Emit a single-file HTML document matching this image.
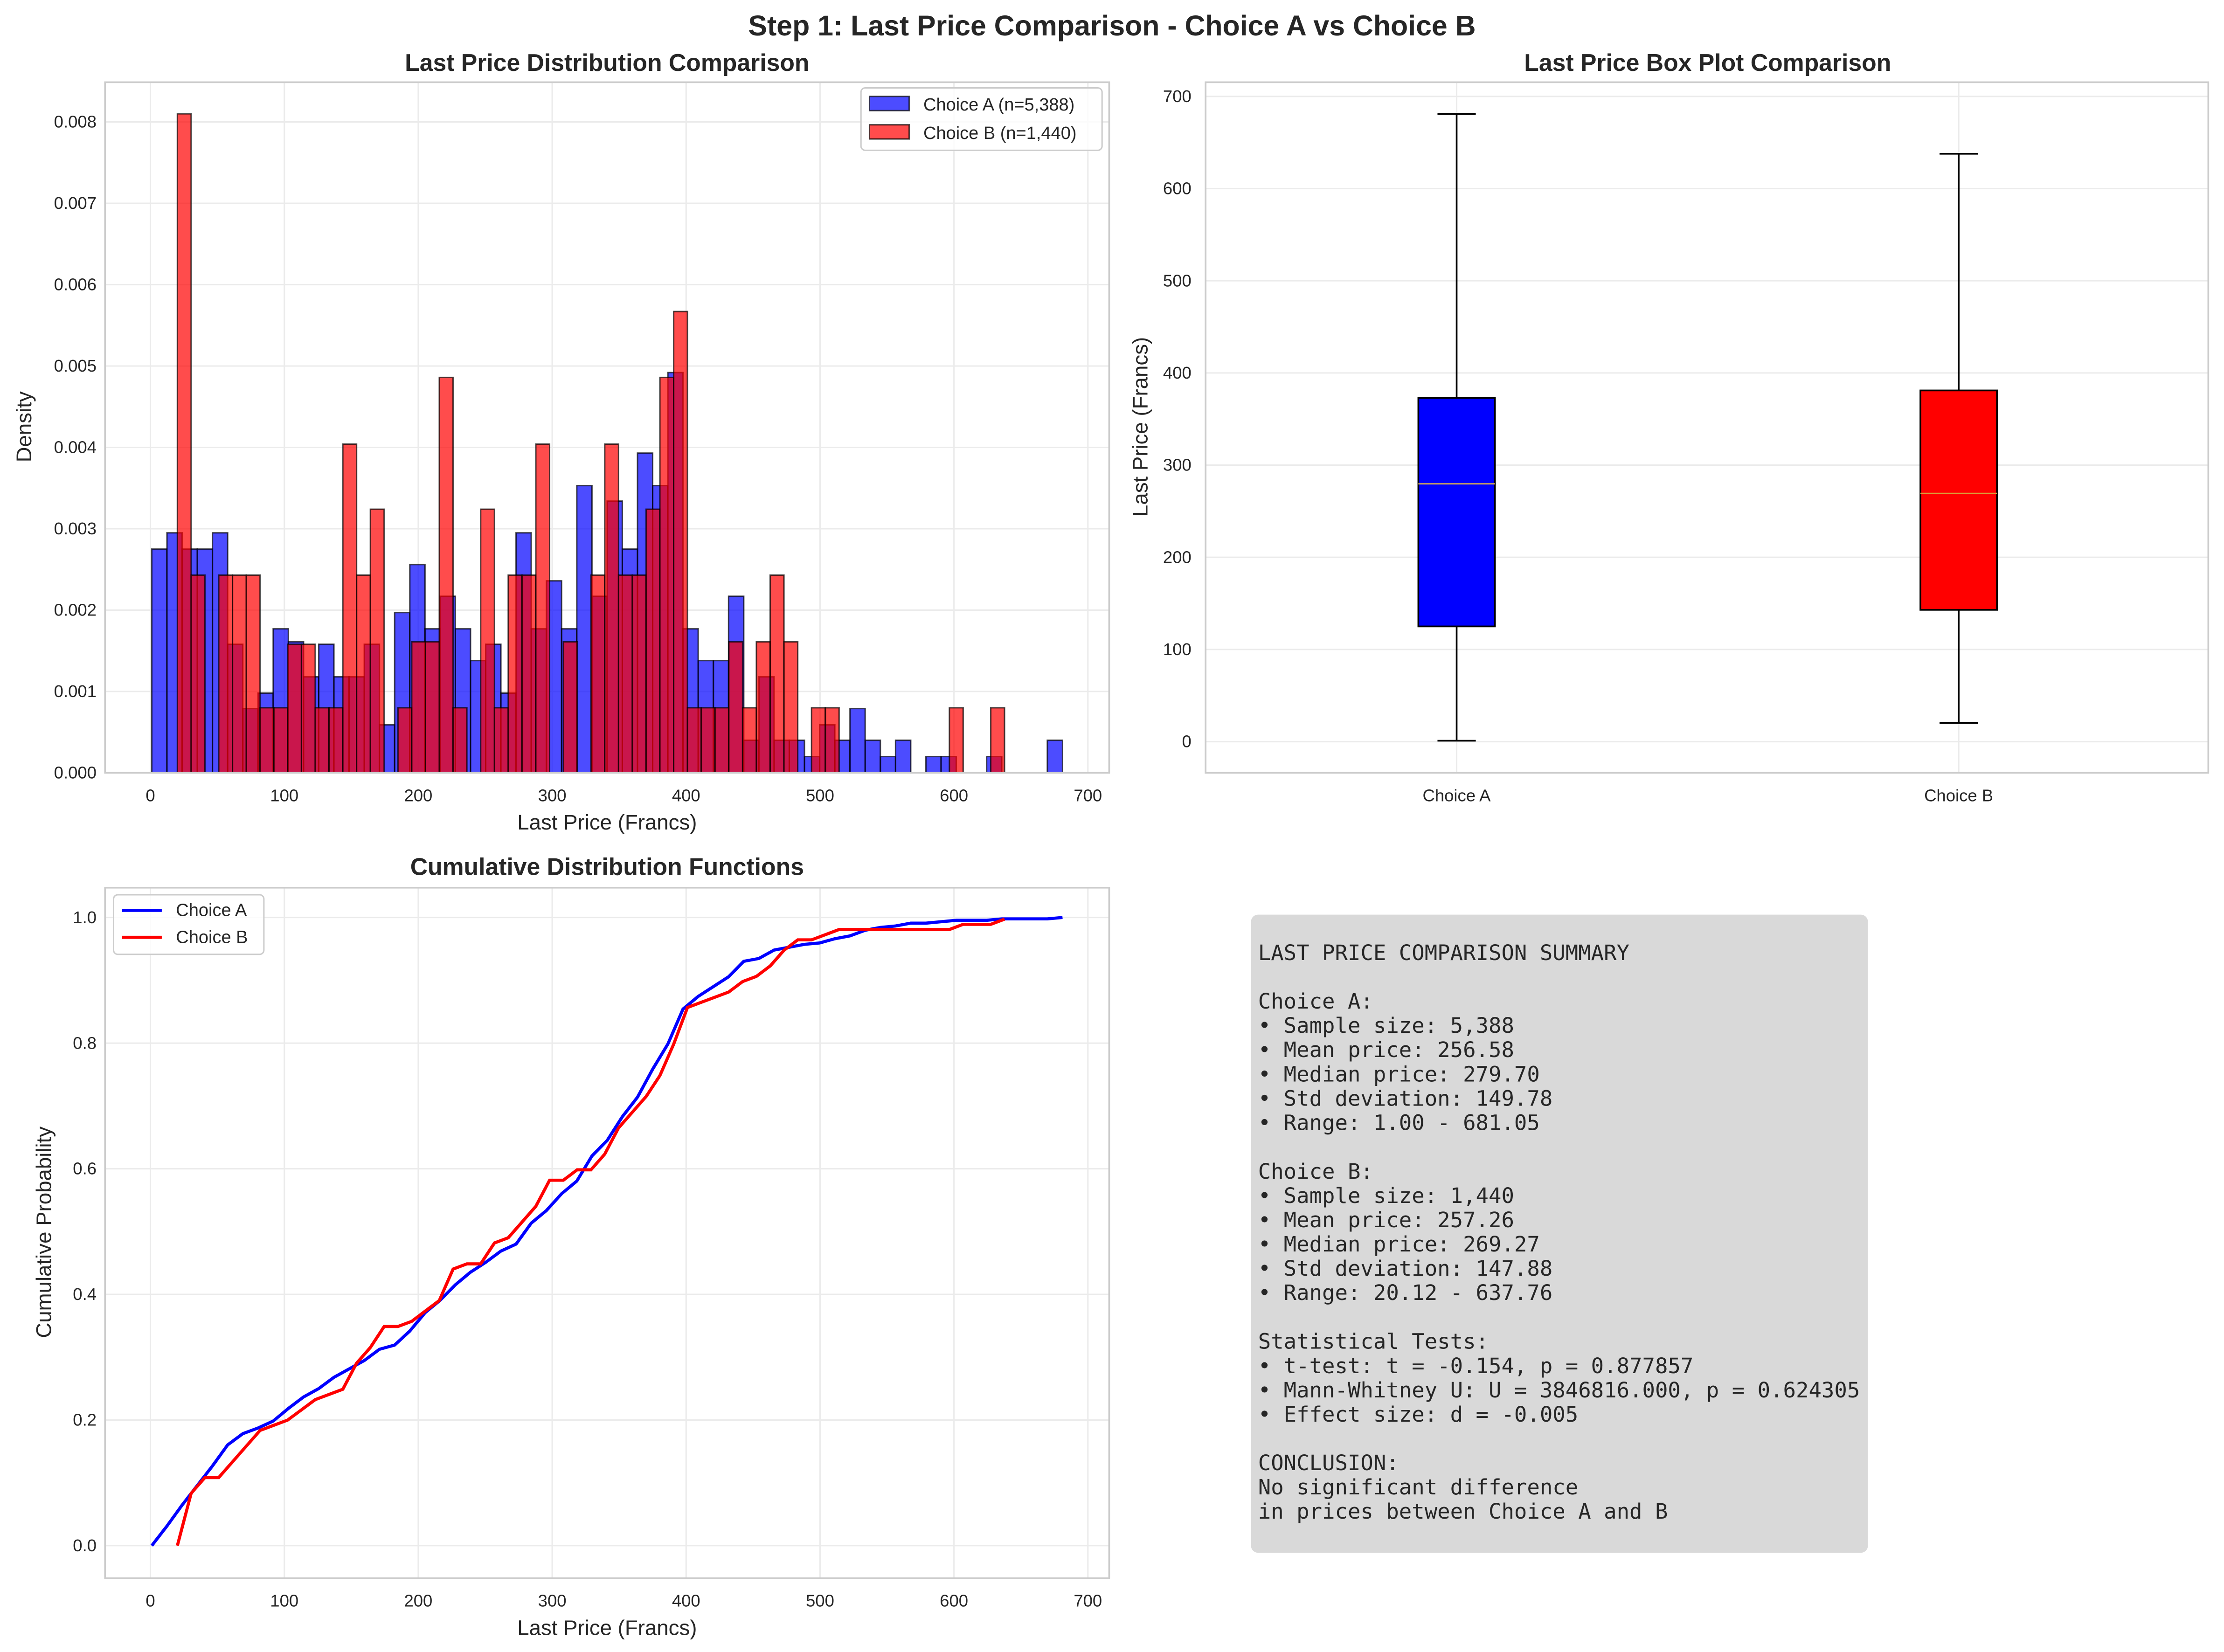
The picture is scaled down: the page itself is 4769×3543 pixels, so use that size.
<!DOCTYPE html>
<html><head><meta charset="utf-8"><style>
html,body{margin:0;padding:0;background:#fff;}
svg{display:block;}
text{font-family:"Liberation Sans",Arial,sans-serif;fill:#262626;}
.mono{font-family:"DejaVu Sans Mono","Liberation Mono",monospace;fill:#262626;}
</style></head><body>
<svg id="fig" width="4769" height="3543" viewBox="0 0 1568 1165" xmlns="http://www.w3.org/2000/svg">
<rect width="1568" height="1165" fill="#fff"/>
<text x="784" y="25" text-anchor="middle" font-size="20" font-weight="bold">Step 1: Last Price Comparison - Choice A vs Choice B</text>
<g id="p1"></g>
<g id="p2"></g>
<g id="p3"></g>
<g>
<rect x="882" y="645" width="435" height="450" rx="5" fill="#d9d9d9"/>
<text class="mono" font-size="15" xml:space="preserve">
<tspan x="887" y="677">LAST PRICE COMPARISON SUMMARY</tspan>
<tspan x="887" y="711.3">Choice A:</tspan>
<tspan x="887" y="728.4">• Sample size: 5,388</tspan>
<tspan x="887" y="745.5">• Mean price: 256.58</tspan>
<tspan x="887" y="762.7">• Median price: 279.70</tspan>
<tspan x="887" y="779.8">• Std deviation: 149.78</tspan>
<tspan x="887" y="796.9">• Range: 1.00 - 681.05</tspan>
<tspan x="887" y="831.2">Choice B:</tspan>
<tspan x="887" y="848.3">• Sample size: 1,440</tspan>
<tspan x="887" y="865.5">• Mean price: 257.26</tspan>
<tspan x="887" y="882.6">• Median price: 269.27</tspan>
<tspan x="887" y="899.7">• Std deviation: 147.88</tspan>
<tspan x="887" y="916.8">• Range: 20.12 - 637.76</tspan>
<tspan x="887" y="951.1">Statistical Tests:</tspan>
<tspan x="887" y="968.3">• t-test: t = -0.154, p = 0.877857</tspan>
<tspan x="887" y="985.4">• Mann-Whitney U: U = 3846816.000, p = 0.624305</tspan>
<tspan x="887" y="1002.5">• Effect size: d = -0.005</tspan>
<tspan x="887" y="1036.8">CONCLUSION:</tspan>
<tspan x="887" y="1053.9">No significant difference</tspan>
<tspan x="887" y="1071">in prices between Choice A and B</tspan>
</text>
</g>
</svg>
<script>
// ---- data ----
const binStartA = 1.0, binEndA = 681.05;
const binStartB = 20.12, binEndB = 637.76;
const densityA = [2.75,2.95,2.75,2.75,2.95,1.58,0.79,0.98,1.77,1.61,1.18,1.58,1.18,1.18,1.58,0.59,1.97,2.56,1.77,2.17,1.77,1.38,1.58,0.98,2.95,1.77,2.36,1.77,3.53,2.17,3.34,2.75,3.93,3.53,4.92,1.77,1.38,1.38,2.17,0.40,1.18,0.40,0.40,0.20,0.59,0.40,0.79,0.40,0.20,0.40,0,0.20,0.20,0,0,0.20,0,0,0,0.40];
const densityB = [8.10,2.43,0,2.43,2.43,2.43,0.80,0.80,1.58,1.58,0.80,0.80,4.04,2.43,3.24,0,0.80,1.61,1.61,4.86,0.80,0,3.24,0.80,2.43,2.43,4.04,0,1.61,0,2.43,4.04,2.43,2.43,3.24,4.86,5.67,0.80,0.80,0.80,1.61,0.80,1.61,2.43,1.61,0,0.80,0.80,0,0,0,0,0,0,0,0,0.80,0,0,0.80];
const histXTicks = [0,100,200,300,400,500,600,700];
const histYTicks = [0,0.001,0.002,0.003,0.004,0.005,0.006,0.007,0.008];
const boxCats = ["Choice A","Choice B"];
const boxMin = [1.00,20.12];
const boxQ1 = [125,143];
const boxMed = [279.70,269.27];
const boxQ3 = [373,381];
const boxMax = [681.05,637.76];
const boxYTicks = [0,100,200,300,400,500,600,700];
const cdfYTicks = [0,0.2,0.4,0.6,0.8,1.0];
const cdfYLabels = ["0.0","0.2","0.4","0.6","0.8","1.0"];

const NS="http://www.w3.org/2000/svg";
function mk(parent,tag,attrs,txt){const e=document.createElementNS(NS,tag);for(const k in attrs)e.setAttribute(k,attrs[k]);if(txt!==undefined)e.textContent=txt;parent.appendChild(e);return e;}

function frame(g,x0,y0,x1,y1){
  const r=mk(g,'rect',{x:x0,y:y0,width:x1-x0,height:y1-y0,fill:'none',stroke:'#cccccc','stroke-width':1.2});
  
  
}
function gridV(g,x,y0,y1){mk(g,'line',{x1:x,x2:x,y1:y0,y2:y1,stroke:'#ebebeb','stroke-width':1});}
function gridH(g,y,x0,x1){mk(g,'line',{x1:x0,x2:x1,y1:y,y2:y,stroke:'#ebebeb','stroke-width':1});}

// ---- Panel 1: histogram ----
const p1=document.getElementById('p1');
const X1=v=>106+v*(767-106)/700;
const Y1=d=>545-d*(545-86)/0.008;
histXTicks.forEach(t=>gridV(p1,X1(t),58,545));
histYTicks.forEach(t=>gridH(p1,Y1(t),74,782));
function drawHist(data,start,end,fill,name){
  const w=(end-start)/data.length;
  data.forEach((v,i)=>{
    if(v<=0)return;
    const d=v/1000;
    const r=mk(p1,'rect',{x:X1(start+i*w),y:Y1(d),width:X1(start+(i+1)*w)-X1(start+i*w),height:Y1(0)-Y1(d),fill:fill,'fill-opacity':0.7,stroke:'#000','stroke-opacity':0.7,'stroke-width':1});
    
    
  });
}
drawHist(densityA,binStartA,binEndA,'#0000ff','bar-choice-a');
drawHist(densityB,binStartB,binEndB,'#ff0000','bar-choice-b');
frame(p1,74,58,782,545);
histXTicks.forEach(t=>{const e=mk(p1,'text',{x:X1(t),y:565,'text-anchor':'middle','font-size':12},String(t));});
histYTicks.forEach(t=>{const e=mk(p1,'text',{x:68,y:Y1(t)+4,'text-anchor':'end','font-size':12},t.toFixed(3));});
{let e=mk(p1,'text',{x:428,y:585,'text-anchor':'middle','font-size':15},'Last Price (Francs)');
e=mk(p1,'text',{x:22,y:301,'text-anchor':'middle','font-size':15,transform:'rotate(-90 22 301)'},'Density');
e=mk(p1,'text',{x:428,y:50,'text-anchor':'middle','font-size':17,'font-weight':'bold'},'Last Price Distribution Comparison');
const lg=mk(p1,'g',{});
mk(lg,'rect',{x:607,y:62,width:170,height:44,rx:3,fill:'#fff','fill-opacity':0.8,stroke:'#cccccc'});
mk(lg,'rect',{x:613,y:68,width:28,height:10,fill:'#0000ff','fill-opacity':0.7,stroke:'#000','stroke-opacity':0.7});
mk(lg,'text',{x:651,y:78,'font-size':12.5},'Choice A (n=5,388)');
mk(lg,'rect',{x:613,y:88,width:28,height:10,fill:'#ff0000','fill-opacity':0.7,stroke:'#000','stroke-opacity':0.7});
mk(lg,'text',{x:651,y:98,'font-size':12.5},'Choice B (n=1,440)');}

// ---- Panel 2: box plot ----
const p2=document.getElementById('p2');
const Y2=v=>523-v*(523-68)/700;
const P2L=850, P2R=1557;
const catX=[1027,1381];
boxYTicks.forEach(t=>gridH(p2,Y2(t),P2L,P2R));
catX.forEach(x=>gridV(p2,x,58,545));
const boxColors=['#0000ff','#ff0000'];
boxCats.forEach((c,i)=>{
  const x=catX[i],hw=27,cw=13.5;
  const g=mk(p2,'g',{});
  
  
  mk(g,'line',{x1:x,x2:x,y1:Y2(boxMin[i]),y2:Y2(boxQ1[i]),stroke:'#000','stroke-width':1.2});
  mk(g,'line',{x1:x,x2:x,y1:Y2(boxQ3[i]),y2:Y2(boxMax[i]),stroke:'#000','stroke-width':1.2});
  mk(g,'line',{x1:x-cw,x2:x+cw,y1:Y2(boxMin[i]),y2:Y2(boxMin[i]),stroke:'#000','stroke-width':1.2});
  mk(g,'line',{x1:x-cw,x2:x+cw,y1:Y2(boxMax[i]),y2:Y2(boxMax[i]),stroke:'#000','stroke-width':1.2});
  mk(g,'rect',{x:x-hw,y:Y2(boxQ3[i]),width:2*hw,height:Y2(boxQ1[i])-Y2(boxQ3[i]),fill:boxColors[i],stroke:'#000','stroke-width':1.2});
  mk(g,'line',{x1:x-hw,x2:x+hw,y1:Y2(boxMed[i]),y2:Y2(boxMed[i]),stroke:i?'#d9a03a':'#c8a060','stroke-width':1});
  const e=mk(p2,'text',{x:x,y:565,'text-anchor':'middle','font-size':12},c);
});
frame(p2,P2L,58,P2R,545);
boxYTicks.forEach(t=>{const e=mk(p2,'text',{x:840,y:Y2(t)+4,'text-anchor':'end','font-size':12},String(t));});
{let e=mk(p2,'text',{x:809,y:301,'text-anchor':'middle','font-size':15,transform:'rotate(-90 809 301)'},'Last Price (Francs)');
e=mk(p2,'text',{x:1204,y:50,'text-anchor':'middle','font-size':17,'font-weight':'bold'},'Last Price Box Plot Comparison');}

// ---- Panel 3: CDF ----
const p3=document.getElementById('p3');
const Y3=p=>1090-p*(1090-647);
histXTicks.forEach(t=>gridV(p3,X1(t),626,1113));
cdfYTicks.forEach(t=>gridH(p3,Y3(t),74,782));
function cdfPath(data,start,end){
  const w=(end-start)/data.length;let cum=0;let d='M'+X1(start)+','+Y3(0);
  data.forEach((v,i)=>{cum+=v/1000*w;d+=' L'+X1(start+(i+1)*w).toFixed(2)+','+Y3(Math.min(cum,1)).toFixed(2);});
  return d;
}
{let e=mk(p3,'path',{d:cdfPath(densityA,binStartA,binEndA),fill:'none',stroke:'#0000ff','stroke-width':2.2});
e=mk(p3,'path',{d:cdfPath(densityB,binStartB,binEndB),fill:'none',stroke:'#ff0000','stroke-width':2.2});}
frame(p3,74,626,782,1113);
histXTicks.forEach(t=>{const e=mk(p3,'text',{x:X1(t),y:1133,'text-anchor':'middle','font-size':12},String(t));});
cdfYTicks.forEach((t,i)=>{const e=mk(p3,'text',{x:68,y:Y3(t)+4,'text-anchor':'end','font-size':12},cdfYLabels[i]);});
{let e=mk(p3,'text',{x:428,y:1153,'text-anchor':'middle','font-size':15},'Last Price (Francs)');
e=mk(p3,'text',{x:36,y:869,'text-anchor':'middle','font-size':15,transform:'rotate(-90 36 869)'},'Cumulative Probability');
e=mk(p3,'text',{x:428,y:617,'text-anchor':'middle','font-size':17,'font-weight':'bold'},'Cumulative Distribution Functions');
const lg=mk(p3,'g',{});
mk(lg,'rect',{x:80,y:631,width:106,height:42,rx:3,fill:'#fff','fill-opacity':0.8,stroke:'#cccccc'});
mk(lg,'line',{x1:86,x2:114,y1:642,y2:642,stroke:'#0000ff','stroke-width':2.2});
mk(lg,'text',{x:124,y:646,'font-size':12.5},'Choice A');
mk(lg,'line',{x1:86,x2:114,y1:661,y2:661,stroke:'#ff0000','stroke-width':2.2});
mk(lg,'text',{x:124,y:665,'font-size':12.5},'Choice B');}
</script>
</body></html>
